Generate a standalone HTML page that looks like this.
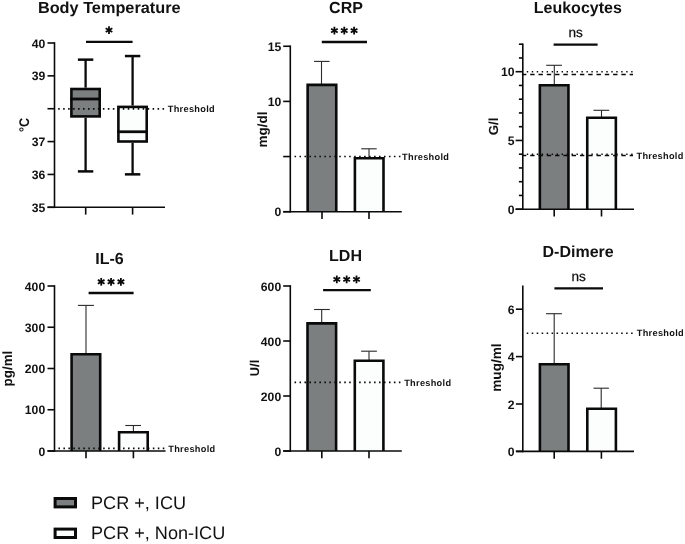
<!DOCTYPE html>
<html><head><meta charset="utf-8"><style>
html,body{margin:0;padding:0;background:#fff;}
svg{display:block;will-change:transform;}
text{font-family:"Liberation Sans",sans-serif;fill:#111;text-rendering:geometricPrecision;}
</style></head><body>
<svg width="685" height="544" viewBox="0 0 685 544">
<rect width="685" height="544" fill="#fff"/>
<text x="109.25" y="13.0" font-size="16" font-weight="bold" text-anchor="middle" textLength="142.7" lengthAdjust="spacingAndGlyphs">Body Temperature</text>
<text transform="translate(24.05,124.85) rotate(-90)" x="0" y="0" font-size="14" font-weight="bold" text-anchor="middle" dominant-baseline="central" textLength="14.2" lengthAdjust="spacingAndGlyphs">°C</text>
<line x1="85.60" y1="59.65" x2="85.60" y2="87.70" stroke="#0a0a0a" stroke-width="2.3" />
<line x1="85.60" y1="117.70" x2="85.60" y2="171.40" stroke="#0a0a0a" stroke-width="2.3" />
<line x1="77.90" y1="59.65" x2="93.30" y2="59.65" stroke="#0a0a0a" stroke-width="2.5" />
<line x1="77.90" y1="171.40" x2="93.30" y2="171.40" stroke="#0a0a0a" stroke-width="2.5" />
<rect x="71.40" y="89.00" width="28.30" height="27.40" fill="#7b7f7f" stroke="#0a0a0a" stroke-width="2.6"/>
<line x1="70.10" y1="99.00" x2="101.00" y2="99.00" stroke="#0a0a0a" stroke-width="2.8" />
<line x1="132.60" y1="56.05" x2="132.60" y2="105.60" stroke="#0a0a0a" stroke-width="2.3" />
<line x1="132.60" y1="142.80" x2="132.60" y2="174.35" stroke="#0a0a0a" stroke-width="2.3" />
<line x1="124.90" y1="56.05" x2="140.30" y2="56.05" stroke="#0a0a0a" stroke-width="2.5" />
<line x1="124.90" y1="174.35" x2="140.30" y2="174.35" stroke="#0a0a0a" stroke-width="2.5" />
<rect x="118.40" y="106.90" width="28.30" height="34.60" fill="#fcfefd" stroke="#0a0a0a" stroke-width="2.6"/>
<line x1="117.10" y1="131.75" x2="148.00" y2="131.75" stroke="#0a0a0a" stroke-width="2.8" />
<line x1="54.50" y1="42.20" x2="54.50" y2="208.10" stroke="#0a0a0a" stroke-width="1.6" />
<line x1="47.50" y1="207.30" x2="165.00" y2="207.30" stroke="#0a0a0a" stroke-width="1.6" />
<line x1="47.50" y1="43.00" x2="54.50" y2="43.00" stroke="#0a0a0a" stroke-width="1.6" />
<line x1="47.50" y1="75.86" x2="54.50" y2="75.86" stroke="#0a0a0a" stroke-width="1.6" />
<line x1="47.50" y1="108.72" x2="54.50" y2="108.72" stroke="#0a0a0a" stroke-width="1.6" />
<line x1="47.50" y1="141.58" x2="54.50" y2="141.58" stroke="#0a0a0a" stroke-width="1.6" />
<line x1="47.50" y1="174.44" x2="54.50" y2="174.44" stroke="#0a0a0a" stroke-width="1.6" />
<line x1="47.50" y1="207.30" x2="54.50" y2="207.30" stroke="#0a0a0a" stroke-width="1.6" />
<text x="45.20" y="47.50" font-size="12.2" font-weight="bold" text-anchor="end" >40</text>
<text x="45.20" y="80.36" font-size="12.2" font-weight="bold" text-anchor="end" >39</text>
<text x="45.20" y="146.08" font-size="12.2" font-weight="bold" text-anchor="end" >37</text>
<text x="45.20" y="178.94" font-size="12.2" font-weight="bold" text-anchor="end" >36</text>
<text x="45.20" y="211.80" font-size="12.2" font-weight="bold" text-anchor="end" >35</text>
<line x1="85.70" y1="207.30" x2="85.70" y2="214.60" stroke="#0a0a0a" stroke-width="1.6" />
<line x1="132.60" y1="207.30" x2="132.60" y2="214.60" stroke="#0a0a0a" stroke-width="1.6" />
<line x1="58.16" y1="108.90" x2="164.09" y2="108.90" stroke="#0a0a0a" stroke-width="1.6" stroke-dasharray="1.55 3.420"/>
<text x="167.80" y="111.80" font-size="9.2" font-weight="bold" text-anchor="start" letter-spacing="0.3">Threshold</text>
<line x1="86.00" y1="41.80" x2="132.60" y2="41.80" stroke="#0a0a0a" stroke-width="2.3" />
<line x1="109.00" y1="26.25" x2="109.00" y2="33.95" stroke="#0a0a0a" stroke-width="1.8" />
<line x1="105.67" y1="28.18" x2="112.33" y2="32.02" stroke="#0a0a0a" stroke-width="1.8" />
<line x1="105.67" y1="32.02" x2="112.33" y2="28.18" stroke="#0a0a0a" stroke-width="1.8" />
<text x="346" y="13.0" font-size="16" font-weight="bold" text-anchor="middle">CRP</text>
<text transform="translate(262.23,129.55) rotate(-90)" x="0" y="0" font-size="13.5" font-weight="bold" text-anchor="middle" dominant-baseline="central">mg/dl</text>
<line x1="321.50" y1="61.40" x2="321.50" y2="84.60" stroke="#2a2a2a" stroke-width="1.1" />
<line x1="314.00" y1="61.40" x2="329.60" y2="61.40" stroke="#2a2a2a" stroke-width="1.1" />
<line x1="369.00" y1="148.80" x2="369.00" y2="157.90" stroke="#2a2a2a" stroke-width="1.1" />
<line x1="361.20" y1="148.80" x2="376.70" y2="148.80" stroke="#2a2a2a" stroke-width="1.1" />
<path d="M307.65 211.70 V84.90 H336.25 V211.70" fill="#7b7f7f" stroke="#0a0a0a" stroke-width="2.6"/>
<path d="M354.90 211.70 V158.20 H383.50 V211.70" fill="#fcfefd" stroke="#0a0a0a" stroke-width="2.6"/>
<line x1="290.30" y1="45.45" x2="290.30" y2="212.50" stroke="#0a0a0a" stroke-width="1.6" />
<line x1="283.20" y1="211.70" x2="401.80" y2="211.70" stroke="#0a0a0a" stroke-width="1.6" />
<line x1="283.20" y1="46.25" x2="290.30" y2="46.25" stroke="#0a0a0a" stroke-width="1.6" />
<line x1="283.20" y1="101.40" x2="290.30" y2="101.40" stroke="#0a0a0a" stroke-width="1.6" />
<line x1="283.20" y1="156.55" x2="290.30" y2="156.55" stroke="#0a0a0a" stroke-width="1.6" />
<line x1="283.20" y1="211.70" x2="290.30" y2="211.70" stroke="#0a0a0a" stroke-width="1.6" />
<text x="281.20" y="50.75" font-size="12.2" font-weight="bold" text-anchor="end" >15</text>
<text x="281.20" y="105.90" font-size="12.2" font-weight="bold" text-anchor="end" >10</text>
<text x="281.20" y="216.20" font-size="12.2" font-weight="bold" text-anchor="end" >0</text>
<line x1="322.00" y1="211.70" x2="322.00" y2="219.00" stroke="#0a0a0a" stroke-width="1.6" />
<line x1="369.00" y1="211.70" x2="369.00" y2="219.00" stroke="#0a0a0a" stroke-width="1.6" />
<line x1="294.53" y1="156.45" x2="400.44" y2="156.45" stroke="#0a0a0a" stroke-width="1.6" stroke-dasharray="1.55 3.420"/>
<text x="402.10" y="159.65" font-size="9.2" font-weight="bold" text-anchor="start" letter-spacing="0.3">Threshold</text>
<line x1="321.80" y1="42.00" x2="367.00" y2="42.00" stroke="#0a0a0a" stroke-width="2.3" />
<line x1="334.40" y1="26.75" x2="334.40" y2="34.45" stroke="#0a0a0a" stroke-width="1.8" />
<line x1="331.07" y1="28.68" x2="337.73" y2="32.52" stroke="#0a0a0a" stroke-width="1.8" />
<line x1="331.07" y1="32.52" x2="337.73" y2="28.68" stroke="#0a0a0a" stroke-width="1.8" />
<line x1="344.25" y1="26.75" x2="344.25" y2="34.45" stroke="#0a0a0a" stroke-width="1.8" />
<line x1="340.92" y1="28.68" x2="347.58" y2="32.52" stroke="#0a0a0a" stroke-width="1.8" />
<line x1="340.92" y1="32.52" x2="347.58" y2="28.68" stroke="#0a0a0a" stroke-width="1.8" />
<line x1="354.10" y1="26.75" x2="354.10" y2="34.45" stroke="#0a0a0a" stroke-width="1.8" />
<line x1="350.77" y1="28.68" x2="357.43" y2="32.52" stroke="#0a0a0a" stroke-width="1.8" />
<line x1="350.77" y1="32.52" x2="357.43" y2="28.68" stroke="#0a0a0a" stroke-width="1.8" />
<text x="577.8" y="13.0" font-size="16" font-weight="bold" text-anchor="middle">Leukocytes</text>
<text transform="translate(493.70,126.35) rotate(-90)" x="0" y="0" font-size="13.2" font-weight="bold" text-anchor="middle" dominant-baseline="central">G/l</text>
<line x1="554.30" y1="65.30" x2="554.30" y2="84.90" stroke="#2a2a2a" stroke-width="1.1" />
<line x1="546.20" y1="65.30" x2="562.00" y2="65.30" stroke="#2a2a2a" stroke-width="1.1" />
<line x1="601.50" y1="110.30" x2="601.50" y2="117.50" stroke="#2a2a2a" stroke-width="1.1" />
<line x1="593.50" y1="110.30" x2="609.20" y2="110.30" stroke="#2a2a2a" stroke-width="1.1" />
<path d="M539.85 209.20 V85.20 H568.45 V209.20" fill="#7b7f7f" stroke="#0a0a0a" stroke-width="2.6"/>
<path d="M587.25 209.20 V117.80 H615.85 V209.20" fill="#fcfefd" stroke="#0a0a0a" stroke-width="2.6"/>
<line x1="522.80" y1="43.40" x2="522.80" y2="210.00" stroke="#0a0a0a" stroke-width="1.6" />
<line x1="515.60" y1="209.20" x2="634.00" y2="209.20" stroke="#0a0a0a" stroke-width="1.6" />
<line x1="515.60" y1="209.20" x2="522.80" y2="209.20" stroke="#0a0a0a" stroke-width="1.6" />
<line x1="518.90" y1="195.45" x2="522.80" y2="195.45" stroke="#0a0a0a" stroke-width="1.6" />
<line x1="518.90" y1="181.70" x2="522.80" y2="181.70" stroke="#0a0a0a" stroke-width="1.6" />
<line x1="518.90" y1="167.95" x2="522.80" y2="167.95" stroke="#0a0a0a" stroke-width="1.6" />
<line x1="518.90" y1="154.20" x2="522.80" y2="154.20" stroke="#0a0a0a" stroke-width="1.6" />
<line x1="515.60" y1="140.45" x2="522.80" y2="140.45" stroke="#0a0a0a" stroke-width="1.6" />
<line x1="518.90" y1="126.70" x2="522.80" y2="126.70" stroke="#0a0a0a" stroke-width="1.6" />
<line x1="518.90" y1="112.95" x2="522.80" y2="112.95" stroke="#0a0a0a" stroke-width="1.6" />
<line x1="518.90" y1="99.20" x2="522.80" y2="99.20" stroke="#0a0a0a" stroke-width="1.6" />
<line x1="518.90" y1="85.45" x2="522.80" y2="85.45" stroke="#0a0a0a" stroke-width="1.6" />
<line x1="515.60" y1="71.70" x2="522.80" y2="71.70" stroke="#0a0a0a" stroke-width="1.6" />
<line x1="518.90" y1="57.95" x2="522.80" y2="57.95" stroke="#0a0a0a" stroke-width="1.6" />
<line x1="518.90" y1="44.20" x2="522.80" y2="44.20" stroke="#0a0a0a" stroke-width="1.6" />
<text x="514.60" y="76.20" font-size="12.2" font-weight="bold" text-anchor="end" >10</text>
<text x="514.60" y="144.95" font-size="12.2" font-weight="bold" text-anchor="end" >5</text>
<text x="514.60" y="213.70" font-size="12.2" font-weight="bold" text-anchor="end" >0</text>
<line x1="554.20" y1="209.20" x2="554.20" y2="216.50" stroke="#0a0a0a" stroke-width="1.6" />
<line x1="601.50" y1="209.20" x2="601.50" y2="216.50" stroke="#0a0a0a" stroke-width="1.6" />
<line x1="526.80" y1="71.75" x2="632.57" y2="71.75" stroke="#0a0a0a" stroke-width="1.6" stroke-dasharray="1.4 3.570"/>
<line x1="521.90" y1="74.40" x2="633.00" y2="74.40" stroke="#0a0a0a" stroke-width="1.5" stroke-dasharray="4.4 3.890"/>
<line x1="526.80" y1="154.20" x2="632.57" y2="154.20" stroke="#0a0a0a" stroke-width="1.6" stroke-dasharray="1.4 3.570"/>
<line x1="521.90" y1="155.40" x2="633.00" y2="155.40" stroke="#0a0a0a" stroke-width="1.5" stroke-dasharray="4.4 3.890"/>
<text x="636.50" y="158.80" font-size="9.2" font-weight="bold" text-anchor="start" letter-spacing="0.3">Threshold</text>
<line x1="553.60" y1="44.60" x2="597.60" y2="44.60" stroke="#0a0a0a" stroke-width="2.3" />
<text x="568.5" y="37" font-size="13.6" stroke="#111" stroke-width="0.25">ns</text>
<text x="109.50" y="264.00" font-size="16" font-weight="bold" text-anchor="middle" >IL-6</text>
<text transform="translate(7.00,368.55) rotate(-90)" x="0" y="0" font-size="13.4" font-weight="bold" text-anchor="middle" dominant-baseline="central">pg/ml</text>
<line x1="86.00" y1="305.40" x2="86.00" y2="354.00" stroke="#2a2a2a" stroke-width="1.1" />
<line x1="77.90" y1="305.40" x2="93.90" y2="305.40" stroke="#2a2a2a" stroke-width="1.1" />
<line x1="133.40" y1="425.50" x2="133.40" y2="432.00" stroke="#2a2a2a" stroke-width="1.1" />
<line x1="125.30" y1="425.50" x2="141.00" y2="425.50" stroke="#2a2a2a" stroke-width="1.1" />
<path d="M71.60 451.00 V354.30 H100.20 V451.00" fill="#7b7f7f" stroke="#0a0a0a" stroke-width="2.6"/>
<path d="M119.10 451.00 V432.30 H147.70 V451.00" fill="#fcfefd" stroke="#0a0a0a" stroke-width="2.6"/>
<line x1="54.50" y1="285.20" x2="54.50" y2="451.80" stroke="#0a0a0a" stroke-width="1.6" />
<line x1="47.50" y1="451.00" x2="165.60" y2="451.00" stroke="#0a0a0a" stroke-width="1.6" />
<line x1="47.50" y1="286.00" x2="54.50" y2="286.00" stroke="#0a0a0a" stroke-width="1.6" />
<line x1="47.50" y1="327.25" x2="54.50" y2="327.25" stroke="#0a0a0a" stroke-width="1.6" />
<line x1="47.50" y1="368.50" x2="54.50" y2="368.50" stroke="#0a0a0a" stroke-width="1.6" />
<line x1="47.50" y1="409.75" x2="54.50" y2="409.75" stroke="#0a0a0a" stroke-width="1.6" />
<line x1="47.50" y1="451.00" x2="54.50" y2="451.00" stroke="#0a0a0a" stroke-width="1.6" />
<text x="45.20" y="290.50" font-size="12.2" font-weight="bold" text-anchor="end" >400</text>
<text x="45.20" y="331.75" font-size="12.2" font-weight="bold" text-anchor="end" >300</text>
<text x="45.20" y="373.00" font-size="12.2" font-weight="bold" text-anchor="end" >200</text>
<text x="45.20" y="414.25" font-size="12.2" font-weight="bold" text-anchor="end" >100</text>
<text x="45.20" y="455.50" font-size="12.2" font-weight="bold" text-anchor="end" >0</text>
<line x1="86.00" y1="451.00" x2="86.00" y2="458.30" stroke="#0a0a0a" stroke-width="1.6" />
<line x1="133.40" y1="451.00" x2="133.40" y2="458.30" stroke="#0a0a0a" stroke-width="1.6" />
<line x1="58.43" y1="448.35" x2="164.34" y2="448.35" stroke="#0a0a0a" stroke-width="1.6" stroke-dasharray="1.55 3.420"/>
<text x="168.30" y="451.65" font-size="9.2" font-weight="bold" text-anchor="start" letter-spacing="0.3">Threshold</text>
<line x1="88.60" y1="293.00" x2="133.60" y2="293.00" stroke="#0a0a0a" stroke-width="2.3" />
<line x1="101.20" y1="277.95" x2="101.20" y2="285.65" stroke="#0a0a0a" stroke-width="1.8" />
<line x1="97.87" y1="279.88" x2="104.53" y2="283.73" stroke="#0a0a0a" stroke-width="1.8" />
<line x1="97.87" y1="283.73" x2="104.53" y2="279.88" stroke="#0a0a0a" stroke-width="1.8" />
<line x1="111.05" y1="277.95" x2="111.05" y2="285.65" stroke="#0a0a0a" stroke-width="1.8" />
<line x1="107.72" y1="279.88" x2="114.38" y2="283.73" stroke="#0a0a0a" stroke-width="1.8" />
<line x1="107.72" y1="283.73" x2="114.38" y2="279.88" stroke="#0a0a0a" stroke-width="1.8" />
<line x1="120.90" y1="277.95" x2="120.90" y2="285.65" stroke="#0a0a0a" stroke-width="1.8" />
<line x1="117.57" y1="279.88" x2="124.23" y2="283.73" stroke="#0a0a0a" stroke-width="1.8" />
<line x1="117.57" y1="283.73" x2="124.23" y2="279.88" stroke="#0a0a0a" stroke-width="1.8" />
<text x="345.50" y="261.00" font-size="16" font-weight="bold" text-anchor="middle" >LDH</text>
<text transform="translate(254.20,368.00) rotate(-90)" x="0" y="0" font-size="12.8" font-weight="bold" text-anchor="middle" dominant-baseline="central">U/l</text>
<line x1="321.70" y1="309.50" x2="321.70" y2="323.10" stroke="#2a2a2a" stroke-width="1.1" />
<line x1="314.10" y1="309.50" x2="329.80" y2="309.50" stroke="#2a2a2a" stroke-width="1.1" />
<line x1="369.00" y1="351.20" x2="369.00" y2="360.40" stroke="#2a2a2a" stroke-width="1.1" />
<line x1="361.10" y1="351.20" x2="376.90" y2="351.20" stroke="#2a2a2a" stroke-width="1.1" />
<path d="M307.50 451.00 V323.40 H336.10 V451.00" fill="#7b7f7f" stroke="#0a0a0a" stroke-width="2.6"/>
<path d="M354.80 451.00 V360.70 H383.40 V451.00" fill="#fcfefd" stroke="#0a0a0a" stroke-width="2.6"/>
<line x1="290.30" y1="285.20" x2="290.30" y2="451.80" stroke="#0a0a0a" stroke-width="1.6" />
<line x1="283.20" y1="451.00" x2="401.80" y2="451.00" stroke="#0a0a0a" stroke-width="1.6" />
<line x1="283.20" y1="286.00" x2="290.30" y2="286.00" stroke="#0a0a0a" stroke-width="1.6" />
<line x1="283.20" y1="341.00" x2="290.30" y2="341.00" stroke="#0a0a0a" stroke-width="1.6" />
<line x1="283.20" y1="396.00" x2="290.30" y2="396.00" stroke="#0a0a0a" stroke-width="1.6" />
<line x1="283.20" y1="451.00" x2="290.30" y2="451.00" stroke="#0a0a0a" stroke-width="1.6" />
<text x="281.20" y="290.50" font-size="12.2" font-weight="bold" text-anchor="end" >600</text>
<text x="281.20" y="345.50" font-size="12.2" font-weight="bold" text-anchor="end" >400</text>
<text x="281.20" y="400.50" font-size="12.2" font-weight="bold" text-anchor="end" >200</text>
<text x="281.20" y="455.50" font-size="12.2" font-weight="bold" text-anchor="end" >0</text>
<line x1="321.80" y1="451.00" x2="321.80" y2="458.30" stroke="#0a0a0a" stroke-width="1.6" />
<line x1="369.00" y1="451.00" x2="369.00" y2="458.30" stroke="#0a0a0a" stroke-width="1.6" />
<line x1="294.53" y1="382.40" x2="400.44" y2="382.40" stroke="#0a0a0a" stroke-width="1.6" stroke-dasharray="1.55 3.420"/>
<text x="404.20" y="385.65" font-size="9.2" font-weight="bold" text-anchor="start" letter-spacing="0.3">Threshold</text>
<line x1="323.10" y1="290.10" x2="370.80" y2="290.10" stroke="#0a0a0a" stroke-width="2.3" />
<line x1="336.80" y1="275.55" x2="336.80" y2="283.25" stroke="#0a0a0a" stroke-width="1.8" />
<line x1="333.47" y1="277.47" x2="340.13" y2="281.32" stroke="#0a0a0a" stroke-width="1.8" />
<line x1="333.47" y1="281.32" x2="340.13" y2="277.47" stroke="#0a0a0a" stroke-width="1.8" />
<line x1="346.65" y1="275.55" x2="346.65" y2="283.25" stroke="#0a0a0a" stroke-width="1.8" />
<line x1="343.32" y1="277.47" x2="349.98" y2="281.32" stroke="#0a0a0a" stroke-width="1.8" />
<line x1="343.32" y1="281.32" x2="349.98" y2="277.47" stroke="#0a0a0a" stroke-width="1.8" />
<line x1="356.50" y1="275.55" x2="356.50" y2="283.25" stroke="#0a0a0a" stroke-width="1.8" />
<line x1="353.17" y1="277.47" x2="359.83" y2="281.32" stroke="#0a0a0a" stroke-width="1.8" />
<line x1="353.17" y1="281.32" x2="359.83" y2="277.47" stroke="#0a0a0a" stroke-width="1.8" />
<text x="578.10" y="257.00" font-size="16" font-weight="bold" text-anchor="middle" >D-Dimere</text>
<text transform="translate(496.25,367.55) rotate(-90)" x="0" y="0" font-size="13.6" font-weight="bold" text-anchor="middle" dominant-baseline="central">mug/ml</text>
<line x1="554.20" y1="313.70" x2="554.20" y2="363.90" stroke="#2a2a2a" stroke-width="1.1" />
<line x1="546.00" y1="313.70" x2="561.90" y2="313.70" stroke="#2a2a2a" stroke-width="1.1" />
<line x1="601.20" y1="388.20" x2="601.20" y2="408.40" stroke="#2a2a2a" stroke-width="1.1" />
<line x1="593.50" y1="388.20" x2="608.90" y2="388.20" stroke="#2a2a2a" stroke-width="1.1" />
<path d="M539.90 451.40 V364.20 H568.50 V451.40" fill="#7b7f7f" stroke="#0a0a0a" stroke-width="2.6"/>
<path d="M587.30 451.40 V408.70 H615.90 V451.40" fill="#fcfefd" stroke="#0a0a0a" stroke-width="2.6"/>
<line x1="522.80" y1="285.60" x2="522.80" y2="452.20" stroke="#0a0a0a" stroke-width="1.6" />
<line x1="515.90" y1="451.40" x2="634.00" y2="451.40" stroke="#0a0a0a" stroke-width="1.6" />
<line x1="515.90" y1="309.20" x2="522.80" y2="309.20" stroke="#0a0a0a" stroke-width="1.6" />
<line x1="515.90" y1="356.60" x2="522.80" y2="356.60" stroke="#0a0a0a" stroke-width="1.6" />
<line x1="515.90" y1="404.00" x2="522.80" y2="404.00" stroke="#0a0a0a" stroke-width="1.6" />
<line x1="515.90" y1="451.40" x2="522.80" y2="451.40" stroke="#0a0a0a" stroke-width="1.6" />
<text x="514.60" y="313.70" font-size="12.2" font-weight="bold" text-anchor="end" >6</text>
<text x="514.60" y="361.10" font-size="12.2" font-weight="bold" text-anchor="end" >4</text>
<text x="514.60" y="408.50" font-size="12.2" font-weight="bold" text-anchor="end" >2</text>
<text x="514.60" y="455.90" font-size="12.2" font-weight="bold" text-anchor="end" >0</text>
<line x1="554.20" y1="451.40" x2="554.20" y2="458.70" stroke="#0a0a0a" stroke-width="1.6" />
<line x1="601.40" y1="451.40" x2="601.40" y2="458.70" stroke="#0a0a0a" stroke-width="1.6" />
<line x1="526.73" y1="333.20" x2="632.64" y2="333.20" stroke="#0a0a0a" stroke-width="1.6" stroke-dasharray="1.55 3.420"/>
<text x="636.80" y="336.20" font-size="9.2" font-weight="bold" text-anchor="start" letter-spacing="0.3">Threshold</text>
<line x1="554.40" y1="288.40" x2="603.00" y2="288.40" stroke="#0a0a0a" stroke-width="2.3" />
<text x="571.5" y="280.6" font-size="13.6" stroke="#111" stroke-width="0.25">ns</text>
<rect x="55.10" y="498.50" width="20.40" height="8.40" fill="#7b7f7f" stroke="#0a0a0a" stroke-width="3"/>
<rect x="55.10" y="529.10" width="20.40" height="8.40" fill="#fcfefd" stroke="#0a0a0a" stroke-width="3"/>
<text x="91.00" y="509.00" font-size="18.1" font-weight="normal" text-anchor="start" >PCR +, ICU</text>
<text x="91.00" y="539.40" font-size="18.1" font-weight="normal" text-anchor="start" >PCR +, Non-ICU</text>
</svg>
</body></html>
